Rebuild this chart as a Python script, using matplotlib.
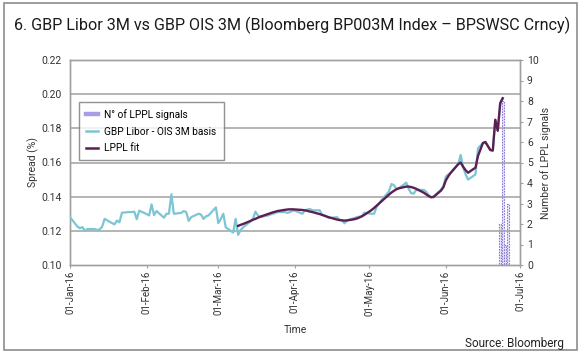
import matplotlib
matplotlib.use("Agg")
import matplotlib.pyplot as plt
import matplotlib.dates as mdates
from matplotlib.patches import Rectangle
from matplotlib.lines import Line2D
import pandas as pd

plt.rcParams["font.family"] = ["Roboto", "DejaVu Sans"]

# ---------------- data ----------------
basis_start, basis_end = "2016-01-01", "2016-05-31"
basis_jan = [0.128, 0.1225, 0.1215, 0.1222, 0.120, 0.121, 0.121, 0.1205, 0.1208, 0.1225, 0.127,
             0.1245, 0.1238, 0.126, 0.125, 0.1306, 0.131, 0.131, 0.1312, 0.1268, 0.1318]
basis_feb = [0.1298, 0.129, 0.1355, 0.1292, 0.1316, 0.1277, 0.130, 0.130, 0.1414, 0.130,
             0.1305, 0.1316, 0.131, 0.1258, 0.128, 0.130, 0.1295, 0.127, 0.1285, 0.129, 0.1337]
basis_mar = [0.1245, 0.127, 0.130, 0.122, 0.119, 0.127, 0.1176, 0.1205, 0.122,
             0.1255, 0.127, 0.1312, 0.129, 0.128, 0.129, 0.1295, 0.130, 0.1305, 0.131,
             0.131, 0.1305, 0.131, 0.1318]
basis_apr = [0.1318, 0.130, 0.132, 0.1325, 0.1328, 0.132, 0.132, 0.1293, 0.129, 0.128, 0.1275,
             0.128, 0.1265, 0.1263, 0.1244, 0.126, 0.1275, 0.128, 0.1283, 0.1283, 0.1306]
basis_may = [0.130, 0.130, 0.134, 0.136, 0.138, 0.143, 0.1474, 0.1468, 0.1445, 0.1449,
             0.1482, 0.1445, 0.142, 0.1418, 0.1439, 0.144, 0.143, 0.141, 0.1396, 0.140,
             0.144, 0.146]

jun_dates = ["2016-06-01", "2016-06-02", "2016-06-03", "2016-06-06", "2016-06-07", "2016-06-08",
             "2016-06-09", "2016-06-10", "2016-06-13", "2016-06-14", "2016-06-16", "2016-06-17",
             "2016-06-19", "2016-06-20", "2016-06-21", "2016-06-22", "2016-06-23", "2016-06-24"]
basis_jun = [0.1517, 0.153, 0.154, 0.159, 0.1644, 0.1572, 0.153, 0.150, 0.153, 0.1683,
             0.1714, 0.172, 0.1673, 0.167, 0.185, 0.1786, 0.1947, 0.1976]

lppl_start, lppl_end = "2016-03-09", "2016-05-31"
lppl_mar = [0.1229, 0.1235, 0.124, 0.1258, 0.1265, 0.127, 0.1277, 0.1283, 0.1298, 0.1303,
            0.1308, 0.1312, 0.1316, 0.1323, 0.1325, 0.1326, 0.1326]
lppl_apr = [0.1325, 0.1322, 0.132, 0.1317, 0.1313, 0.131, 0.1298, 0.1293, 0.1288, 0.1283,
            0.1278, 0.1266, 0.1263, 0.1261, 0.126, 0.1261, 0.1268, 0.1272, 0.1278, 0.1285, 0.1293]
lppl_may = [0.1322, 0.1334, 0.1347, 0.136, 0.1373, 0.1412, 0.1424, 0.1434, 0.1443, 0.1449,
            0.1459, 0.1459, 0.1456, 0.1452, 0.1446, 0.1424, 0.1414, 0.1404, 0.1397, 0.1398,
            0.1435, 0.1455]
lppl_jun = [0.1495, 0.152, 0.154, 0.159, 0.160, 0.1575, 0.1555, 0.154, 0.157, 0.1638,
            0.1714, 0.172, 0.1673, 0.167, 0.185, 0.1786, 0.1947, 0.1976]

signal_dates = ["2016-06-23", "2016-06-24", "2016-06-25", "2016-06-26"]
signal_counts = [2, 8, 1, 3]

tick_dates = ["2016-01-01", "2016-02-01", "2016-03-01", "2016-04-01",
              "2016-05-01", "2016-06-01", "2016-07-01"]
left_ticks = [0.10, 0.12, 0.14, 0.16, 0.18, 0.20, 0.22]
right_ticks = list(range(0, 11))

basis_idx = pd.bdate_range(basis_start, basis_end).append(pd.to_datetime(jun_dates))
basis_vals = basis_jan + basis_feb + basis_mar + basis_apr + basis_may + basis_jun
lppl_idx = pd.bdate_range(lppl_start, lppl_end).append(pd.to_datetime(jun_dates))
lppl_vals = lppl_mar + lppl_apr + lppl_may + lppl_jun

# ---------------- figure ----------------
fig = plt.figure(figsize=(5.8, 3.58), dpi=100)
fig.patch.set_facecolor("white")
fig.add_artist(Rectangle((4/580, 1 - 350/358), 573/580, 347/358, transform=fig.transFigure,
                         fill=False, edgecolor="#8c8c8c", lw=1.2))
fig.text(14/580, 1 - 25/358, "6. GBP Libor 3M vs GBP OIS 3M (Bloomberg BP003M Index \u2013 BPSWSC Crncy)",
         fontsize=11.6, color="#1a1a1a", va="center", ha="left")
fig.text(564/580, 1 - 343/358, "Source: Bloomberg", fontsize=8.5, ha="right", va="center", color="#222222")

ax = fig.add_axes([70/580, 1 - 265/358, 450/580, 205/358])
ax2 = ax.twinx()

grid_c = "#a0a0a0"
ax.set_ylim(0.10, 0.22)
ax.set_yticks(left_ticks)
ax.set_yticklabels([f"{v:.2f}" for v in left_ticks])
for v in left_ticks[1:]:
    ax.axhline(v, color=grid_c, lw=1.1, zorder=0)
ax.set_xlim(pd.Timestamp(tick_dates[0]), pd.Timestamp(tick_dates[-1]))
ax.set_xticks(pd.to_datetime(tick_dates))
ax.xaxis.set_major_formatter(mdates.DateFormatter("%d-%b-%y"))
plt.setp(ax.get_xticklabels(), rotation=90, fontsize=7, color="#333333")
ax.tick_params(axis="y", length=0, labelsize=7.5, labelcolor="#333333", pad=6)
ax.tick_params(axis="x", length=2, color=grid_c, pad=2)

ax2.bar(pd.to_datetime(signal_dates), signal_counts, width=0.7, color="#ece8fa",
        edgecolor="#8a7ad6", linestyle=(0, (1.5, 1)), lw=0.8, zorder=1)
ax2.set_ylim(0, 10)
ax2.set_yticks(right_ticks)
ax2.tick_params(axis="y", length=2, color=grid_c, labelsize=7.5, labelcolor="#333333", pad=3)

ax.set_zorder(ax2.get_zorder() + 1)
ax.patch.set_visible(False)
ax.plot(basis_idx, basis_vals, color="#7cc5d3", lw=1.6, zorder=3)
ax.plot(lppl_idx, lppl_vals, color="#5b1f52", lw=1.7, zorder=4)

for a in (ax, ax2):
    for s in a.spines.values():
        s.set_color(grid_c)
        s.set_linewidth(1.0)

ax.set_ylabel("Spread (%)", fontsize=7.5, color="#333333", labelpad=2)
ax2.set_ylabel("Number of LPPL signals", fontsize=7.5, color="#333333", labelpad=1)
ax.set_xlabel("Time", fontsize=7.5, color="#333333", labelpad=6)

handles = [Line2D([], [], color="#a99de6", lw=3.2),
           Line2D([], [], color="#7cc5d3", lw=1.8),
           Line2D([], [], color="#5b1f52", lw=1.8)]
labels = ["N\u00b0 of LPPL signals", "GBP Libor - OIS 3M basis", "LPPL fit"]
leg = ax.legend(handles, labels, loc="upper left", bbox_to_anchor=(9/450, 1 - 42/205),
                fontsize=7.3, frameon=True, fancybox=False, edgecolor="#777777",
                handlelength=1.2, borderpad=0.7, labelspacing=0.65,
                handletextpad=0.6, borderaxespad=0)
leg.get_frame().set_linewidth(1.0)

fig.savefig("out.png", dpi=100, facecolor="white")
